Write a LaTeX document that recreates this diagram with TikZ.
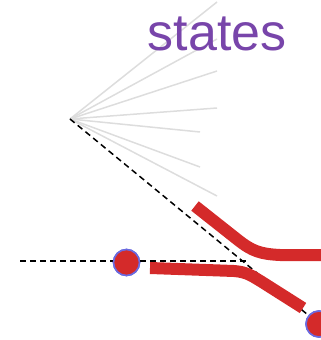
\documentclass[tikz,border=0pt]{standalone}
\usepackage{fontspec}
\setmainfont{Liberation Sans}
\definecolor{raygray}{HTML}{DDDDDD}
\definecolor{redc}{HTML}{D42A2A}
\definecolor{bluec}{HTML}{6A6AE0}
\definecolor{purp}{HTML}{7845AA}
\begin{document}
\begin{tikzpicture}[x=1pt,y=-1pt,
  rayline/.style={draw=raygray,line width=1.5pt},
  guide/.style={draw=black,line width=1.5pt,dash pattern=on 6pt off 4pt},
  track/.style={draw=redc,line width=12pt},
  dot/.style={circle,fill=redc,draw=bluec,line width=1.6pt,minimum size=26pt,inner sep=0pt}]
\useasboundingbox (0,0) rectangle (321,340);
\clip (0,0) rectangle (321,340);
\coordinate (o) at (70,119);
\coordinate (r1) at (217,2);
\coordinate (r2) at (217,39);
\coordinate (r3) at (217,71);
\coordinate (r4) at (217,108);
\coordinate (r5) at (200,132);
\coordinate (r6) at (200,167);
\coordinate (r7) at (217,196);
\draw[rayline] (o) -- (r1);
\draw[rayline] (o) -- (r2);
\draw[rayline] (o) -- (r3);
\draw[rayline] (o) -- (r4);
\draw[rayline] (o) -- (r5);
\draw[rayline] (o) -- (r6);
\draw[rayline] (o) -- (r7);
\node[dot] (n1) at (126.5,262.5) {};
\node[dot] (n2) at (319,324) {};
\coordinate (h) at (20,261);
\coordinate (x) at (249,261);
\draw[guide] (o) -- (n2.center);
\draw[guide] (h) -- (x);
\draw[track] (195,206) -- (238,240) .. controls (252,251) and (260,254) .. (280,255) -- (330,255);
\draw[track] (150,268) -- (234,271) .. controls (247,272) and (252,276) .. (262,282) -- (303,308);
\node[dot] at (n1) {};
\node[dot] at (n2) {};
\node[text=purp,font=\fontsize{52}{52}\selectfont,anchor=base] (t) at (217,50) {states};
\end{tikzpicture}
\end{document}
